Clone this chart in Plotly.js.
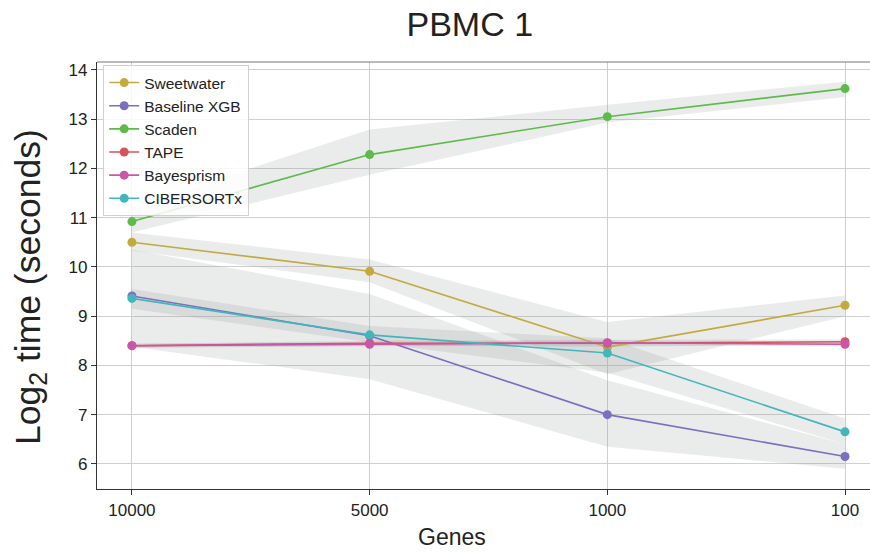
<!DOCTYPE html>
<html>
<head>
<meta charset="utf-8">
<script src="https://cdn.plot.ly/plotly-3.0.1.min.js"></script>
<style>html,body{margin:0;padding:0;background:#fff;}#chart{width:870px;height:553px;}</style>
</head>
<body>
<div id="chart"></div>
<script>
// Categories (x axis, genes)
const genes = ['10000', '5000', '1000', '100'];

// Series: mean log2 time (seconds)
const sweetwater = [10.50, 9.91, 8.37, 9.22];
const baselineXGB = [9.41, 8.60, 7.00, 6.15];
const scaden = [10.92, 12.28, 13.05, 13.62];
const tape = [8.40, 8.45, 8.45, 8.48];
const bayesprism = [8.40, 8.43, 8.46, 8.43];
const cibersortx = [9.36, 8.62, 8.25, 6.65];

// Confidence band upper / lower bounds
const sweetwaterUp = [10.70, 10.15, 8.88, 9.42];
const sweetwaterLo = [10.33, 9.69, 7.82, 9.00];
const baselineXGBUp = [10.35, 9.45, 7.70, 6.40];
const baselineXGBLo = [8.38, 7.72, 6.35, 5.90];
const scadenUp = [11.21, 12.79, 13.29, 13.76];
const scadenLo = [10.70, 11.87, 12.93, 13.45];
const tapeUp = [8.44, 8.50, 8.52, 8.53];
const tapeLo = [8.36, 8.40, 8.38, 8.42];
const bayesprismUp = [8.44, 8.47, 8.51, 8.47];
const bayesprismLo = [8.36, 8.39, 8.41, 8.39];
const cibersortxUp = [9.55, 8.80, 8.55, 6.92];
const cibersortxLo = [9.15, 8.47, 7.85, 6.40];

const names = ['Sweetwater', 'Baseline XGB', 'Scaden', 'TAPE', 'Bayesprism', 'CIBERSORTx'];
const colors = ['#c3aa3f', '#7c6fc0', '#5eba4a', '#d8525c', '#c956a6', '#42b6bb'];
const means = [sweetwater, baselineXGB, scaden, tape, bayesprism, cibersortx];
const ups = [sweetwaterUp, baselineXGBUp, scadenUp, tapeUp, bayesprismUp, cibersortxUp];
const los = [sweetwaterLo, baselineXGBLo, scadenLo, tapeLo, bayesprismLo, cibersortxLo];

const FONT = 'Liberation Sans, Arial, sans-serif';
const traces = [];
// bands
for (let i = 0; i < names.length; i++) {
  traces.push({
    x: genes.concat(genes.slice().reverse()),
    y: ups[i].concat(los[i].slice().reverse()),
    type: 'scatter', mode: 'lines', fill: 'toself',
    fillcolor: 'rgba(150,156,156,0.2)', line: {width: 0, color: 'rgba(0,0,0,0)'},
    showlegend: false, hoverinfo: 'skip'
  });
}
// lines
for (let i = 0; i < names.length; i++) {
  traces.push({
    x: genes, y: means[i], name: names[i],
    type: 'scatter', mode: 'lines+markers',
    line: {color: colors[i], width: 1.6},
    marker: {color: colors[i], size: 9}
  });
}

const layout = {
  width: 870, height: 553,
  margin: {l: 97, r: 0, t: 62, b: 64},
  paper_bgcolor: '#fff', plot_bgcolor: '#fff',
  font: {family: FONT, color: '#222'},
  title: {text: 'PBMC 1', font: {size: 34, family: FONT, color: '#222'}, x: 0.54, xanchor: 'center', y: 0.957, yanchor: 'middle'},
  xaxis: {
    type: 'category', range: [-0.147, 3.105],
    showgrid: true, gridcolor: '#cfcfcf', gridwidth: 1,
    showline: true, linecolor: '#333', linewidth: 1.2,
    ticks: 'outside', ticklen: 5, tickcolor: '#333',
    tickfont: {size: 17, family: FONT, color: '#222'},
    zeroline: false
  },
  yaxis: {
    range: [5.49, 14.16], dtick: 1,
    showgrid: true, gridcolor: '#cfcfcf', gridwidth: 1,
    showline: true, linecolor: '#333', linewidth: 1.2,
    ticks: 'outside', ticklen: 5, tickcolor: '#333',
    tickfont: {size: 17, family: FONT, color: '#222'},
    zeroline: false
  },
  annotations: [
    {text: 'Genes', xref: 'paper', yref: 'paper', x: 0.459, y: -0.112, xanchor: 'center', yanchor: 'middle',
     showarrow: false, font: {size: 23, family: FONT, color: '#222'}},
    {text: 'Log<sub>2</sub> time (seconds)', xref: 'paper', yref: 'paper', x: -0.0867, y: 0.473, xanchor: 'center', yanchor: 'middle',
     textangle: -90, showarrow: false, font: {size: 35.5, family: FONT, color: '#222'}}
  ],
  shapes: [{type: 'line', xref: 'paper', yref: 'paper', x0: 0, x1: 1, y0: 1, y1: 1, line: {color: '#777', width: 1.2}}],
  legend: {
    x: 0.008, y: 0.993, xanchor: 'left', yanchor: 'top',
    bgcolor: 'rgba(255,255,255,0.85)', bordercolor: '#d0d0d0', borderwidth: 1,
    font: {size: 15.5, family: FONT, color: '#222'},
    itemwidth: 30, tracegroupgap: 0
  },
  showlegend: true
};

Plotly.newPlot('chart', traces, layout, {displayModeBar: false, staticPlot: true});
</script>
</body>
</html>
